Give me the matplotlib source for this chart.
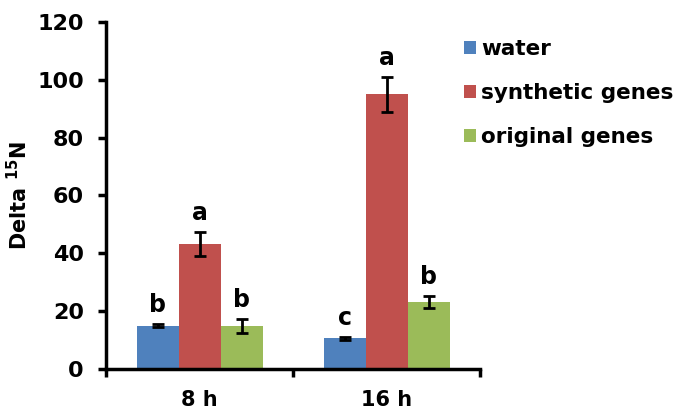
import matplotlib

matplotlib.use("Agg")
import matplotlib.pyplot as plt
import numpy as np

# data
categories = ["8 h", "16 h"]
series = ["water", "synthetic genes", "original genes"]
water = [15.0, 10.7]
water_err = [0.6, 0.5]
synthetic = [43.2, 94.9]
synthetic_err = [4.2, 5.9]
original = [14.8, 23.3]
original_err = [2.4, 2.0]
letters = [["b", "c"], ["a", "a"], ["b", "b"]]

colors = ["#4F81BD", "#C0504D", "#9BBB59"]

plt.rcParams["font.family"] = "DejaVu Sans"
plt.rcParams["font.weight"] = "bold"

fig = plt.figure(figsize=(6.85, 4.12), dpi=100)
ax = fig.add_axes([0.155, 0.104, 0.546, 0.843])

x = np.arange(len(categories))
width = 0.225
values = [water, synthetic, original]
errors = [water_err, synthetic_err, original_err]

for i, (vals, errs, name) in enumerate(zip(values, errors, series)):
    pos = x + (i - 1) * width
    ax.bar(pos, vals, width, color=colors[i], label=name, zorder=2)
    ax.errorbar(pos, vals, yerr=errs, fmt="none", ecolor="black",
                elinewidth=2, capsize=4, capthick=2, zorder=3)
    for p, v, e, t in zip(pos, vals, errs, letters[i]):
        ax.text(p, v + e + 2.5, t, ha="center", va="bottom",
                fontsize=17, fontweight="bold")

ax.set_xlim(-0.5, 1.5)
ax.set_ylim(0, 120)
ax.set_yticks(range(0, 121, 20))
ax.set_xticks(x)
ax.set_xticklabels(categories)
ax.set_xticks([-0.5, 0.5, 1.5], minor=True)
ax.tick_params(axis="x", which="major", length=0, labelsize=15, pad=15)
ax.tick_params(axis="x", which="minor", length=6, width=2.5, direction="out")
ax.tick_params(axis="y", length=6, width=2.5, direction="out", labelsize=16, pad=10)

for s in ["top", "right"]:
    ax.spines[s].set_visible(False)
for s in ["left", "bottom"]:
    ax.spines[s].set_linewidth(2.5)

ax.set_ylabel(r"Delta $\mathbf{^{15}}$N", fontsize=15, fontweight="bold", labelpad=4)

ax.legend(loc="upper left", bbox_to_anchor=(0.677, 0.906),
          bbox_transform=fig.transFigure, frameon=False,
          fontsize=15.5, handlelength=0.55, handleheight=0.55, handletextpad=0.25,
          labelspacing=1.13, borderaxespad=0, borderpad=0)

fig.savefig("out.png", dpi=100)
